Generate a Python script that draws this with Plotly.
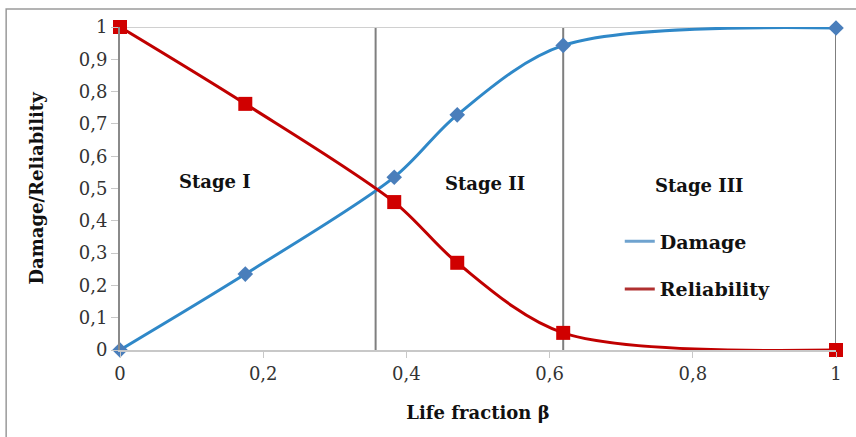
import plotly.graph_objects as go

life_fraction = [0, 0.175, 0.383, 0.471, 0.619, 1.0]
damage = [0, 0.235, 0.535, 0.728, 0.943, 0.997]
reliability = [1.0, 0.762, 0.458, 0.270, 0.053, 0.0]
stage_bounds = [0.357, 0.619, 1.0]
stage_labels = ["Stage I", "Stage II", "Stage III"]
stage_label_x = [0.133, 0.51, 0.81]
stage_label_y = [0.523, 0.517, 0.51]
y_ticks = [0, 0.1, 0.2, 0.3, 0.4, 0.5, 0.6, 0.7, 0.8, 0.9, 1]
x_ticks = [0, 0.2, 0.4, 0.6, 0.8, 1]

SERIF = "DejaVu Serif, Liberation Serif, serif"
BLUE_LINE = "#2f88c8"
BLUE_MARK = "#4a7ebb"
RED_LINE = "#c00000"
RED_MARK = "#d00000"

fig = go.Figure()

fig.add_trace(go.Scatter(
    x=life_fraction, y=damage, mode="lines+markers", name="Damage",
    line=dict(color=BLUE_LINE, width=3, shape="spline", smoothing=0.9),
    marker=dict(symbol="diamond", size=12, color=BLUE_MARK),
    cliponaxis=False, showlegend=False))
fig.add_trace(go.Scatter(
    x=life_fraction, y=reliability, mode="lines+markers", name="Reliability",
    line=dict(color=RED_LINE, width=3, shape="spline", smoothing=0.9),
    marker=dict(symbol="square", size=14, color=RED_MARK),
    cliponaxis=False, showlegend=False))

# legend entries (lines only, as in the reference)
fig.add_trace(go.Scatter(x=[None], y=[None], mode="lines", name="Damage",
                         line=dict(color="#6fa3cf", width=3), legendgroup="a"))
fig.add_trace(go.Scatter(x=[None], y=[None], mode="lines", name="Reliability",
                         line=dict(color="#b03030", width=3), legendgroup="b"))

shapes = []
for xb in stage_bounds:
    shapes.append(dict(type="line", xref="x", yref="y", x0=xb, x1=xb, y0=0, y1=1.01,
                       line=dict(color="#7f7f7f", width=2), layer="below"))
# light top line at y=1
shapes.append(dict(type="line", xref="x", yref="y", x0=0, x1=1, y0=1, y1=1,
                   line=dict(color="#d0d0d0", width=2), layer="below"))
# outer frame
shapes.append(dict(type="rect", xref="paper", yref="paper",
                   x0=-0.159, x1=1.5, y0=-1.0, y1=1.056,
                   line=dict(color="#9a9a9a", width=1.5), layer="below"))

annotations = []
for lab, lx, ly in zip(stage_labels, stage_label_x, stage_label_y):
    annotations.append(dict(x=lx, y=ly, xref="x", yref="y", text="<b>%s</b>" % lab,
                            showarrow=False, font=dict(family=SERIF, size=18, color="#111")))

fig.update_layout(
    width=856, height=437,
    margin=dict(l=120, r=20, t=27, b=87),
    paper_bgcolor="white", plot_bgcolor="white",
    separators=", ",
    font=dict(family=SERIF, size=15, color="#222"),
    shapes=shapes, annotations=annotations,
    legend=dict(x=0.698, y=0.395, xanchor="left", yanchor="top",
                font=dict(family=SERIF, size=19, color="#111", weight="bold"),
                tracegroupgap=20, bgcolor="rgba(0,0,0,0)"),
    xaxis=dict(range=[0, 1], tickvals=x_ticks, showgrid=False, zeroline=False,
               automargin=False,
               showline=True, linecolor="#c8c8c8", linewidth=2,
               ticks="outside", ticklen=6, tickcolor="#c8c8c8",
               tickfont=dict(family=SERIF, size=18, color="#333"),
               title=dict(text="<b>Life fraction β</b>", standoff=24,
                          font=dict(family=SERIF, size=18, color="#111"))),
    yaxis=dict(range=[0, 1], tickvals=y_ticks, showgrid=False, zeroline=False,
               automargin=False,
               showline=True, linecolor="#8a8a8a", linewidth=2,
               ticks="outside", ticklen=7, tickcolor="#c8c8c8",
               tickfont=dict(family=SERIF, size=18, color="#333"),
               title=dict(text="<b>Damage/Reliability</b>", standoff=30,
                          font=dict(family=SERIF, size=18, color="#111"))),
)

fig.write_html("out.html", config={"displayModeBar": False},
               post_script="document.body.style.margin='0';")
